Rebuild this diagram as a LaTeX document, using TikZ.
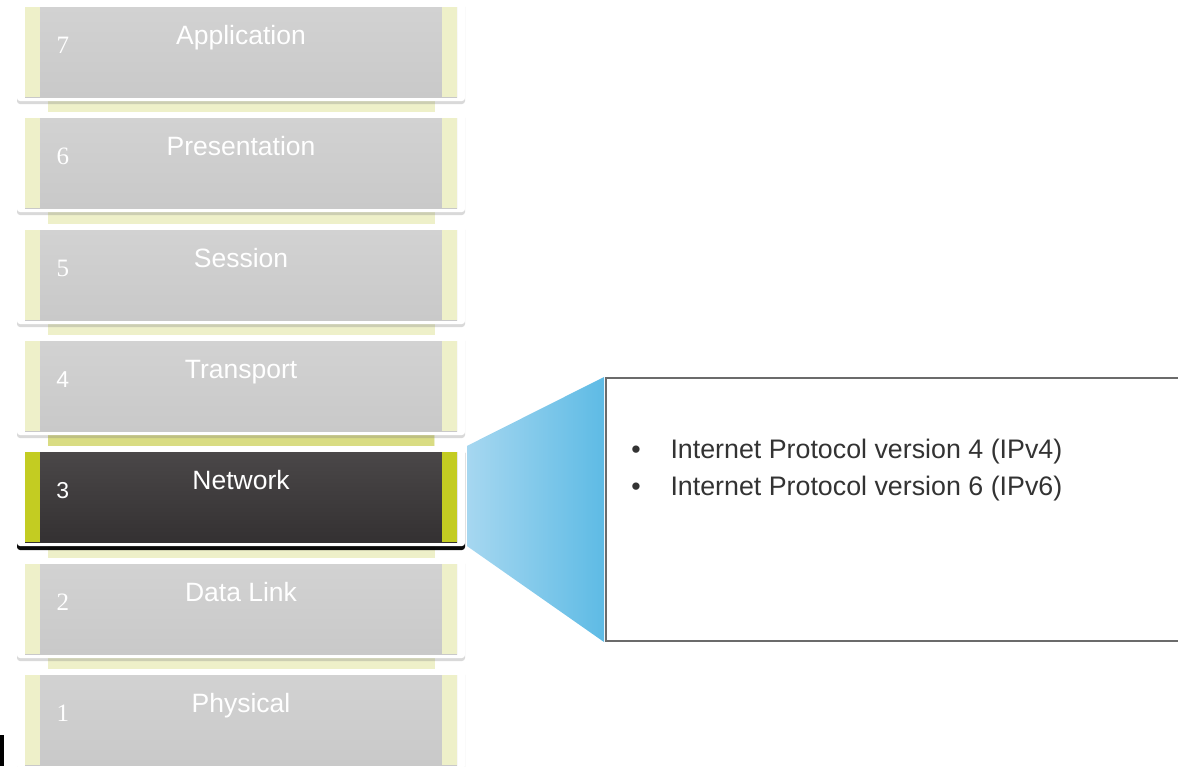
\documentclass[tikz,border=0pt]{standalone}
\usepackage{fontspec}
\setmainfont{Liberation Sans}
\newfontfamily\numfont{Liberation Serif}
\usetikzlibrary{shadows}

\definecolor{laytop}{HTML}{D2D2D2}
\definecolor{laybot}{HTML}{C9C9C9}
\definecolor{paleyel}{HTML}{EEF0C9}
\definecolor{limeyel}{HTML}{C3CC22}
\definecolor{brightyel}{HTML}{D9DC83}
\definecolor{nettop}{HTML}{4A4748}
\definecolor{netbot}{HTML}{343132}
\definecolor{bluel}{HTML}{A6D7F0}
\definecolor{bluer}{HTML}{5EBBE5}
\definecolor{infoline}{HTML}{6B6B6B}
\definecolor{infotext}{HTML}{333333}

\begin{document}
\begin{tikzpicture}[x=1pt, y=-1pt,
  card/.style = {fill=white, rounded corners=3pt, inner sep=0pt, minimum width=448pt, minimum height=100pt,
    drop shadow={shadow xshift=0pt, shadow yshift=-3pt, opacity=.3}},
  layer/.style = {top color=laytop, bottom color=laybot, inner sep=0pt, minimum width=432pt, minimum height=90pt,
    path picture={
      \fill[#1] (path picture bounding box.north west) rectangle ([xshift=15pt]path picture bounding box.south west);
      \fill[#1] (path picture bounding box.north east) rectangle ([xshift=-15pt]path picture bounding box.south east);}},
  layer/.default = paleyel,
  lname/.style = {anchor=base, text=white, font=\fontsize{26.5}{30}\selectfont},
  lnum/.style = {anchor=base, text=white, font=\numfont\fontsize{25}{30}\selectfont},
  snum/.style = {anchor=base, text=white, font=\fontsize{23}{28}\selectfont},
  info/.style = {draw=infoline, line width=2pt, fill=white, inner sep=0pt, minimum width=580pt, minimum height=263pt},
  point/.style = {anchor=base west, text=infotext, font=\fontsize{26.8}{31}\selectfont}]

\useasboundingbox (0,0) rectangle (1178,766);

% strip behind the stack
\fill[paleyel] (48,60) rectangle (435,766);
\fill[brightyel] (48,430) rectangle (434,448);

% layers
\node[card] (c7) at (241,51) {};
\node[layer] (l7) at ([yshift=-1pt]c7.center) {};
\node[lname] at ([yshift=-38pt]l7.north) {Application};
\node[lnum] at ([xshift=38pt, yshift=-47pt]l7.north west) {7};

\node[card] (c6) at (241,162) {};
\node[layer] (l6) at ([yshift=-1pt]c6.center) {};
\node[lname] at ([yshift=-38pt]l6.north) {Presentation};
\node[lnum] at ([xshift=38pt, yshift=-47pt]l6.north west) {6};

\node[card] (c5) at (241,274) {};
\node[layer] (l5) at ([yshift=-1pt]c5.center) {};
\node[lname] at ([yshift=-38pt]l5.north) {Session};
\node[lnum] at ([xshift=38pt, yshift=-47pt]l5.north west) {5};

\node[card] (c4) at (241,385) {};
\node[layer] (l4) at ([yshift=-1pt]c4.center) {};
\node[lname] at ([yshift=-38pt]l4.north) {Transport};
\node[snum] at ([xshift=38pt, yshift=-47pt]l4.north west) {4};

\node[card, drop shadow={shadow xshift=0pt, shadow yshift=-4pt, opacity=.95, fill=black}] (c3) at (241,496) {};
\node[layer=limeyel, top color=nettop, bottom color=netbot] (l3) at ([yshift=-1pt]c3.center) {};
\node[lname] at ([yshift=-38pt]l3.north) {Network};
\node[snum] at ([xshift=38pt, yshift=-47pt]l3.north west) {3};

\node[card] (c2) at (241,608) {};
\node[layer] (l2) at ([yshift=-1pt]c2.center) {};
\node[lname] at ([yshift=-38pt]l2.north) {Data Link};
\node[lnum] at ([xshift=38pt, yshift=-47pt]l2.north west) {2};

\node[card] (c1) at (241,719) {};
\node[layer] (l1) at ([yshift=-1pt]c1.center) {};
\node[lname] at ([yshift=-38pt]l1.north) {Physical};
\node[lnum] at ([xshift=38pt, yshift=-47pt]l1.north west) {1};

% callout
\node[info] (info) at (896,509.5) {};
\shade[left color=bluel, right color=bluer] ([xshift=2pt]c3.north east) -- ([xshift=-1pt]info.north west)
  -- ([xshift=-1pt]info.south west) -- ([xshift=2pt]c3.south east) -- cycle;
\node[point] (p1) at (667,458) {Internet Protocol version 4 (IPv4)};
\node[point] (p2) at (667,495) {Internet Protocol version 6 (IPv6)};
\node[point, anchor=base] at ([xshift=-31pt]p1.base west) {•};
\node[point, anchor=base] at ([xshift=-31pt]p2.base west) {•};

\fill[black] (0,735) rectangle (4,766);
\end{tikzpicture}
\end{document}
